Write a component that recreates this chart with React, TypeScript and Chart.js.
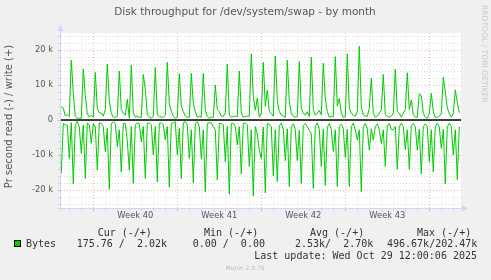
import React, { useEffect, useRef } from "react";
import { Chart, registerables } from "chart.js";

Chart.register(...registerables);

// ---- text ----
const TITLE = "Disk throughput for /dev/system/swap - by month";
const Y_TITLE = "Pr second read (-) / write (+)";
const WATERMARK = "RRDTOOL / TOBI OETIKER";
const SERIES_NAME = "Bytes";
const LAST_UPDATE = "Last update: Wed Oct 29 12:00:06 2025";
const VERSION = "Munin 2.0.76";
const legendHeaders = ["Cur (-/+)", "Min (-/+)", "Avg (-/+)", "Max (-/+)"];
const legendValues = ["175.76 /  2.02k", "0.00 /  0.00", "2.53k/  2.70k", "496.67k/202.47k"];

// ---- axes (hours relative to Mon Sep 29 2025 00:00; values in thousands) ----
const X_MIN = -64.6;
const X_MAX = 735.4;
const Y_MIN = -25.14;
const Y_MAX = 24.86;
const weekLabels = ["Week 40", "Week 41", "Week 42", "Week 43"];
const weekCenters = [84, 252, 420, 588];
const dayLines = [-48, -24, 0, 24, 48, 72, 96, 120, 144, 168, 192, 216, 240, 264, 288, 312, 336, 360, 384, 408, 432, 456, 480, 504, 528, 552, 576, 600, 624, 648, 672, 696, 720];
const yGridValues = [-24, -22, -20, -18, -16, -14, -12, -10, -8, -6, -4, -2, 0, 2, 4, 6, 8, 10, 12, 14, 16, 18, 20, 22, 24];
const yLabelValues = [-20, -10, 0, 10, 20];

// ---- samples: one every 4 hours, first at hour -64 ----
const START_HOUR = -64;
const STEP_HOURS = 4;

// write (+), k bytes/s
const writeK = [
  3.6, 3.4, 1.2, 1.5,
  1.0, 17.1, 7.5, 1.0, 0.5, 0.5,
  0.5, 14.6, 7.0, 1.8, 0.8, 1.4,
  0.8, 13.6, 3.2, 2.1, 2.0, 1.1,
  3.0, 16.0, 5.5, 1.9, 0.8, 0.8,
  1.1, 14.0, 3.0, 1.9, 1.4, 5.9,
  0.5, 15.7, 2.0, 0.8, 1.1, 0.8,
  0.8, 13.0, 8.8, 1.5, 0.8, 0.5,
  1.1, 15.0, 1.5, 1.0, 0.8, 0.8,
  1.4, 16.5, 4.6, 2.5, 1.1, 0.5,
  0.8, 13.3, 4.0, 2.4, 1.1, 0.8,
  0.8, 13.3, 4.8, 2.4, 0.8, 1.1,
  0.8, 13.3, 2.8, 1.0, 0.5, 0.8,
  0.8, 10.0, 3.0, 2.4, 1.1, 1.0,
  2.1, 16.0, 1.5, 0.8, 1.0, 1.1,
  1.0, 14.0, 2.0, 0.8, 1.0, 1.1,
  1.1, 18.9, 6.7, 2.8, 6.2, 0.8,
  1.9, 16.5, 4.0, 8.5, 2.4, 1.9,
  1.1, 18.3, 5.7, 2.4, 1.4, 1.1,
  0.8, 17.1, 5.2, 1.9, 1.1, 0.8,
  1.0, 16.7, 3.3, 1.9, 1.4, 2.4,
  1.0, 17.9, 3.0, 1.4, 1.9, 2.8,
  1.5, 16.2, 6.0, 2.4, 0.8, 1.1,
  1.0, 18.1, 4.0, 6.2, 1.9, 0.8,
  1.0, 18.9, 3.5, 1.9, 1.4, 1.1,
  2.4, 21.1, 3.8, 1.5, 1.1, 1.0,
  3.3, 11.9, 1.9, 0.8, 1.1, 1.9,
  2.8, 13.0, 1.5, 1.1, 0.8, 1.1,
  1.9, 14.5, 2.4, 1.9, 0.8, 2.0,
  3.0, 13.5, 3.0, 5.7, 1.5, 0.8,
  0.8, 7.5, 7.0, 1.9, 0.8, 0.5,
  1.9, 7.6, 2.4, 0.8, 0.8, 1.1,
  1.9, 12.2, 8.0, 3.5, 1.9, 0.8,
  1.9, 8.6, 5.0, 2.1,
];

// read (-), k bytes/s
const readK = [
  15.2, 1.0, 1.4, 1.5,
  11.0, 0.8, 18.3, 1.3, 0.4, 2.0,
  9.5, 1.4, 16.7, 0.8, 1.4, 6.7,
  1.0, 2.0, 14.3, 0.8, 1.0, 1.9,
  9.0, 2.4, 19.8, 1.0, 0.5, 1.0,
  7.6, 2.8, 14.8, 1.0, 1.0, 6.0,
  14.3, 1.9, 18.1, 1.4, 0.8, 1.0,
  6.2, 1.9, 16.7, 1.0, 0.8, 1.4,
  10.0, 1.9, 17.7, 1.0, 0.8, 1.4,
  5.7, 1.9, 19.2, 1.0, 0.8, 0.5,
  10.0, 2.4, 16.7, 0.8, 0.5, 1.4,
  11.0, 2.8, 17.9, 1.0, 0.5, 1.9,
  11.0, 2.8, 20.5, 1.0, 0.8, 0.8,
  1.9, 2.8, 17.1, 1.0, 1.0, 1.4,
  11.9, 1.9, 21.1, 1.0, 1.0, 1.9,
  7.1, 1.9, 15.4, 1.0, 0.8, 1.4,
  13.3, 2.8, 21.7, 1.9, 4.0, 8.6,
  11.0, 2.0, 20.8, 1.0, 1.2, 1.9,
  15.9, 2.8, 17.6, 1.7, 0.9, 2.6,
  11.6, 2.5, 19.0, 1.9, 1.1, 2.8,
  11.6, 2.9, 18.1, 1.6, 1.0, 1.9,
  3.0, 3.8, 19.5, 1.9, 0.8, 2.7,
  13.3, 2.6, 18.7, 2.1, 1.0, 2.8,
  9.0, 2.8, 19.0, 1.8, 1.2, 2.5,
  10.7, 2.7, 19.0, 1.9, 0.9, 2.8,
  5.7, 2.8, 20.5, 1.9, 1.0, 2.6,
  8.6, 2.5, 5.7, 1.9, 1.1, 2.8,
  6.7, 2.8, 13.3, 1.7, 1.0, 2.8,
  2.8, 1.9, 14.1, 1.9, 0.9, 1.9,
  8.4, 2.8, 14.1, 1.6, 1.0, 1.9,
  8.6, 2.6, 15.4, 1.9, 1.1, 1.9,
  11.9, 2.8, 14.8, 1.8, 1.0, 1.9,
  8.1, 2.7, 18.3, 1.9, 0.9, 1.9,
  10.0, 2.8, 17.0, 1.9,
];

// ---- colours ----
const BG = "#F0F0F0";
const LINE_GREEN = "#00CC00";
const GRID_MINOR = "rgba(150,150,150,0.32)";
const GRID_MAJOR = "rgba(222,79,79,0.45)";
const AXIS_COLOR = "#CFD6F8";
const TEXT_COLOR = "#555555";
const LEGEND_COLOR = "#333333";

const FONT = "'DejaVu Sans', sans-serif";
const MONO = "'DejaVu Sans Mono', monospace";

const decorPlugin = {
  id: "muninDecor",
  beforeDraw(chart: any) {
    const { ctx, chartArea } = chart;
    ctx.save();
    ctx.fillStyle = BG;
    ctx.fillRect(0, 0, chart.width, chart.height);
    ctx.fillStyle = "#FFFFFF";
    ctx.fillRect(chartArea.left, chartArea.top, chartArea.right - chartArea.left, chartArea.bottom - chartArea.top);
    ctx.restore();
  },
  afterDraw(chart: any) {
    const { ctx, chartArea } = chart;
    ctx.save();
    // axes with arrows
    ctx.strokeStyle = AXIS_COLOR;
    ctx.fillStyle = AXIS_COLOR;
    ctx.lineWidth = 1;
    const ax = chartArea.left - 0.5;
    const ay = chartArea.bottom + 0.5;
    ctx.beginPath();
    ctx.moveTo(ax, ay + 3);
    ctx.lineTo(ax, chartArea.top - 3);
    ctx.moveTo(ax - 3, ay);
    ctx.lineTo(chartArea.right + 2, ay);
    ctx.stroke();
    ctx.beginPath();
    ctx.moveTo(ax - 3, chartArea.top - 2);
    ctx.lineTo(ax + 3, chartArea.top - 2);
    ctx.lineTo(ax, chartArea.top - 8);
    ctx.closePath();
    ctx.fill();
    ctx.beginPath();
    ctx.moveTo(chartArea.right + 1, ay - 3);
    ctx.lineTo(chartArea.right + 1, ay + 3);
    ctx.lineTo(chartArea.right + 7, ay);
    ctx.closePath();
    ctx.fill();

    // title
    ctx.fillStyle = TEXT_COLOR;
    ctx.font = `10.5px ${FONT}`;
    ctx.textAlign = "center";
    ctx.textBaseline = "middle";
    ctx.fillText(TITLE, 245, 12);

    // y title
    ctx.save();
    ctx.translate(9.5, 116.5);
    ctx.rotate(-Math.PI / 2);
    ctx.font = `10px ${FONT}`;
    ctx.fillText(Y_TITLE, 0, 0);
    ctx.restore();

    // watermark
    ctx.save();
    ctx.translate(483.5, 5);
    ctx.rotate(Math.PI / 2);
    ctx.font = `7.6px ${FONT}`;
    ctx.fillStyle = "#C8C8C8";
    ctx.textAlign = "left";
    ctx.textBaseline = "middle";
    ctx.fillText(WATERMARK, 0, 0);
    ctx.restore();

    // legend
    ctx.font = `10px ${MONO}`;
    ctx.fillStyle = LEGEND_COLOR;
    ctx.textAlign = "left";
    ctx.textBaseline = "middle";
    const headerX = [97.7, 204, 310, 417];
    legendHeaders.forEach((h, i) => ctx.fillText(h, headerX[i], 233));
    const valueX = [76.7, 192.7, 295, 387];
    legendValues.forEach((v, i) => ctx.fillText(v, valueX[i], 244.5));
    ctx.fillText(SERIES_NAME, 26, 244.5);
    ctx.fillStyle = LINE_GREEN;
    ctx.fillRect(14, 240, 7, 7);
    ctx.strokeStyle = "#000";
    ctx.lineWidth = 1;
    ctx.strokeRect(14.5, 240.5, 6, 6);
    ctx.fillStyle = LEGEND_COLOR;
    ctx.textAlign = "right";
    ctx.fillText(LAST_UPDATE, 477, 256.7);

    ctx.font = `6px ${FONT}`;
    ctx.fillStyle = "#BBBBBB";
    ctx.textAlign = "center";
    ctx.fillText(VERSION, 245, 268.5);
    ctx.restore();
  },
};

export default function App() {
  const canvasRef = useRef<HTMLCanvasElement | null>(null);

  useEffect(() => {
    if (!canvasRef.current) return;
    const writeData = writeK.map((v, i) => ({ x: START_HOUR + i * STEP_HOURS, y: v }));
    const readData = readK.map((v, i) => ({ x: START_HOUR + i * STEP_HOURS, y: -v }));
    const zeroData = [
      { x: X_MIN, y: 0 },
      { x: X_MAX, y: 0 },
    ];

    const chart = new Chart(canvasRef.current, {
      type: "line",
      data: {
        datasets: [
          { label: "zero", data: zeroData, borderColor: "#000000", borderWidth: 1.5, pointRadius: 0 },
          { label: "write", data: writeData, borderColor: LINE_GREEN, borderWidth: 1, pointRadius: 0, tension: 0 },
          { label: "read", data: readData, borderColor: LINE_GREEN, borderWidth: 1, pointRadius: 0, tension: 0 },
        ],
      },
      options: {
        animation: false,
        responsive: false,
        devicePixelRatio: 1,
        layout: { padding: { left: 0, right: 30, top: 33, bottom: 0 } },
        plugins: { legend: { display: false }, tooltip: { enabled: false }, title: { display: false } },
        scales: {
          x: {
            type: "linear",
            min: X_MIN,
            max: X_MAX,
            afterBuildTicks: (axis: any) => {
              axis.ticks = [...dayLines, ...weekCenters].sort((a, b) => a - b).map((v) => ({ value: v }));
            },
            afterFit: (axis: any) => {
              axis.height = 72;
            },
            grid: {
              drawTicks: true,
              tickLength: 3,
              lineWidth: 1,
              color: (c: any) => {
                const v = c.tick ? c.tick.value : 0;
                if (weekCenters.includes(v)) return "rgba(0,0,0,0)";
                return v % 168 === 0 ? GRID_MAJOR : GRID_MINOR;
              },
              tickColor: (c: any) => {
                const v = c.tick ? c.tick.value : 0;
                if (weekCenters.includes(v)) return "rgba(0,0,0,0)";
                return v % 168 === 0 ? GRID_MAJOR : GRID_MINOR;
              },
            },
            border: { display: false, dash: [1, 2] },
            ticks: {
              autoSkip: false,
              maxRotation: 0,
              padding: 0,
              color: TEXT_COLOR,
              font: { family: FONT, size: 8.3 },
              callback: (value: any) => {
                const idx = weekCenters.indexOf(Number(value));
                return idx >= 0 ? weekLabels[idx] : "";
              },
            },
          },
          y: {
            type: "linear",
            min: Y_MIN,
            max: Y_MAX,
            afterBuildTicks: (axis: any) => {
              axis.ticks = yGridValues.map((v) => ({ value: v }));
            },
            afterFit: (axis: any) => {
              axis.width = 61;
            },
            grid: {
              drawTicks: true,
              tickLength: 3,
              lineWidth: 1,
              color: (c: any) => (c.tick && c.tick.value % 10 === 0 ? GRID_MAJOR : GRID_MINOR),
              tickColor: (c: any) => (c.tick && c.tick.value % 10 === 0 ? GRID_MAJOR : GRID_MINOR),
            },
            border: { display: false, dash: [1, 2] },
            ticks: {
              autoSkip: false,
              padding: 5,
              color: TEXT_COLOR,
              font: { family: FONT, size: 8.3 },
              callback: (value: any) => {
                const v = Number(value);
                if (!yLabelValues.includes(v)) return "";
                return v === 0 ? "0" : `${v} k`;
              },
            },
          },
        },
      },
      plugins: [decorPlugin],
    });
    return () => chart.destroy();
  }, []);

  return (
    <div style={{ position: "absolute", left: 0, top: 0, width: 491, height: 280, background: BG }}>
      <canvas ref={canvasRef} width={491} height={280} style={{ display: "block", width: 491, height: 280 }} />
    </div>
  );
}
